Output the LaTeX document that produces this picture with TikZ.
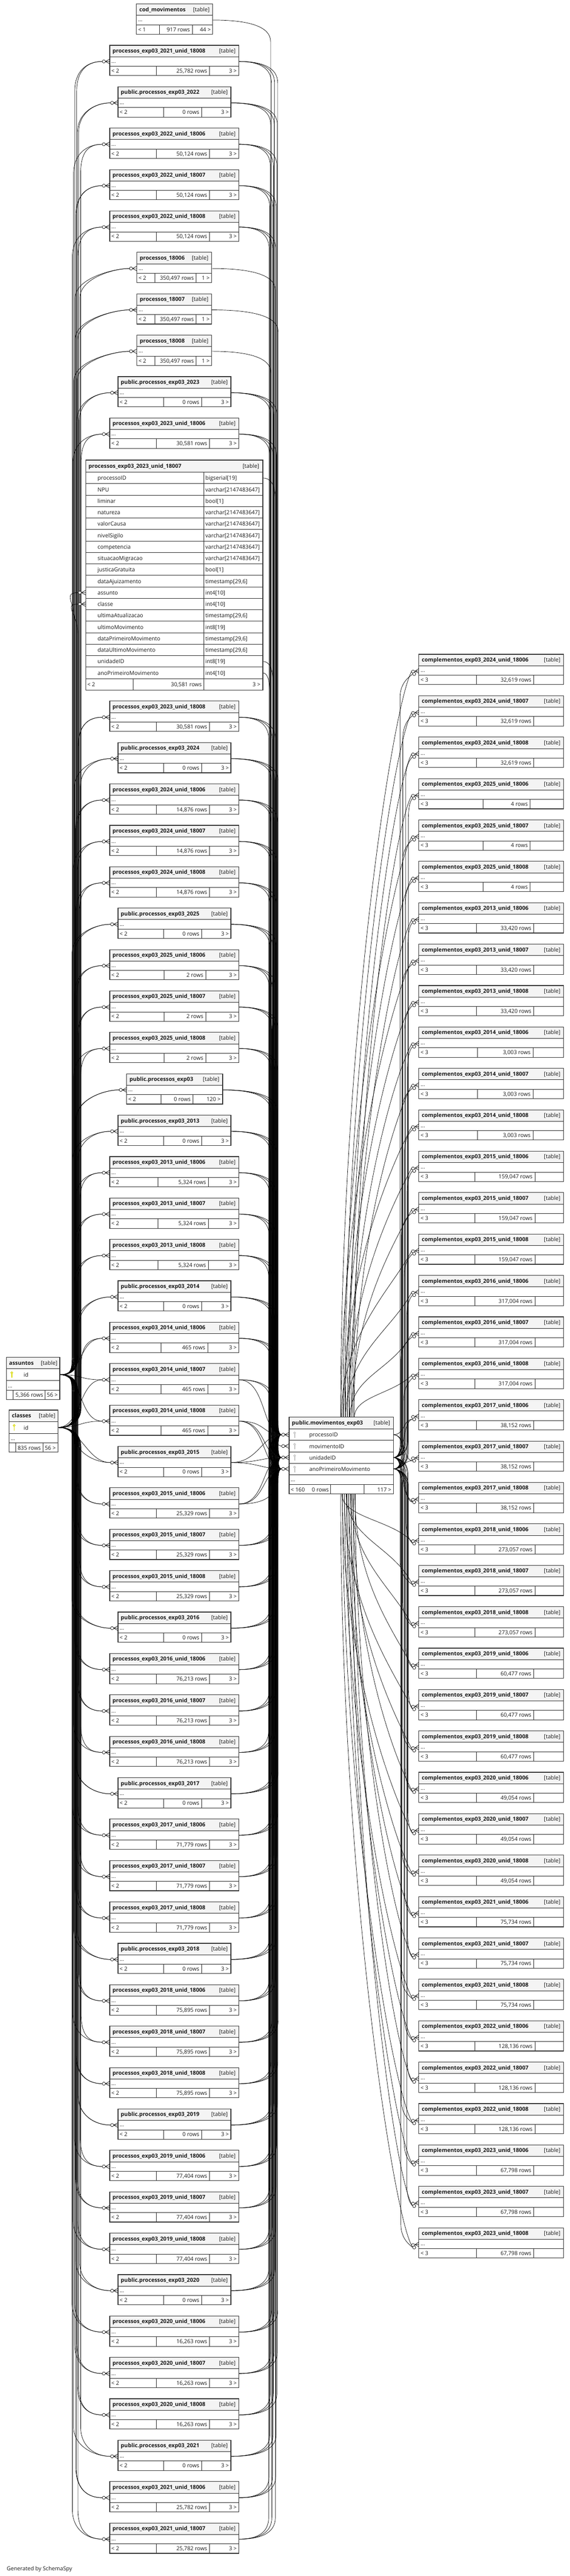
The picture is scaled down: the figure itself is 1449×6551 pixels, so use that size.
\documentclass[tikz,border=0pt]{standalone}
\usepackage{fontspec}
\setmainfont{Open Sans}
\definecolor{hdrgray}{HTML}{F4F4F4}
\definecolor{keyyel}{HTML}{DADA00}
\definecolor{keygray}{HTML}{C4C4C4}
\tikzset{
 tabbg/.style={fill=white, draw=none, inner sep=0pt, outer sep=0pt},
 tabhdr/.style={fill=hdrgray},
 tabcell/.style={draw=black!85, line width=1.1pt},
 tabframe/.style={draw=black!80, line width=1.5pt},
 tabtxt/.style={font=\fontsize{14}{16}\selectfont, inner sep=0pt, text=black!90},
 tabttl/.style={font=\fontsize{14}{16}\selectfont\bfseries, inner sep=0pt, text=black!90},
 conn/.style={draw=black, line width=0.9pt},
}
\newif\ifqdraw
\def\qsplit#1/#2\relax{\def\qdA{#1}\def\qdB{#2}}
% small table: id, x1, x2, ytop, title, parents, rows, children, div1/div2
\newcommand\stab[9]{%
 \qsplit#9\relax
 \pgfmathsetmacro\qyA{#4}%
 \ifqdraw
 \pgfmathsetmacro\qyB{#4+29}%
 \pgfmathsetmacro\qyC{#4+53}%
 \pgfmathsetmacro\qyD{#4+77}%
 \pgfmathsetmacro\qtw{#3-#2}%
 \node[tabbg, minimum width=\qtw pt, minimum height=77pt, anchor=north west] (#1) at (#2,\qyA) {};
 \fill[tabhdr] (#2,\qyA) rectangle (#3,\qyB);
 \draw[tabcell] (#2,\qyB) -- (#3,\qyB) (#2,\qyC) -- (#3,\qyC) (\qdA,\qyC) -- (\qdA,\qyD) (\qdB,\qyC) -- (\qdB,\qyD);
 \draw[tabframe] (#1.north west) rectangle (#1.south east);
 \node[tabttl, anchor=base west] (#1-t) at (#2+7,\qyA+19) {#5};
 \node[tabtxt, anchor=base east] (#1-k) at (#3-8,\qyA+19) {[table]};
 \node[tabtxt, anchor=base west] (#1-d) at (#2+4,\qyA+45) {...};
 \node[tabtxt, anchor=base west] (#1-p) at (#2+4,\qyA+70) {#6};
 \node[tabtxt, anchor=base east] (#1-r) at (\qdB-6,\qyA+70) {#7};
 \node[tabtxt, anchor=base east] (#1-c) at (#3-5,\qyA+70) {#8};
 \fi
 \coordinate (#1-w) at (#2,\qyA+41);
 \coordinate (#1-e) at (#3,\qyA+41);
}
\newcommand\keyicon[4]{%
 \node[circle, draw=#4, line width=1.5pt, inner sep=0pt, minimum size=5pt] (#1) at (#2,#3+3) {};
 \draw[#4, line width=2.2pt] (#2,#3+5.5) -- (#2,#3+16);}
% markers
\newcommand\lmark[1]{%
 \draw[conn, fill=white] ([xshift=-15pt]#1) circle[radius=4pt];
 \draw[conn] ([xshift=-11pt]#1) -- ([yshift=6pt]#1) ([xshift=-11pt]#1) -- (#1) ([xshift=-11pt]#1) -- ([yshift=-6pt]#1);}
\newcommand\cmark[1]{%
 \draw[conn, fill=white] ([xshift=-15pt,yshift=-3pt]#1) circle[radius=4pt];
 \draw[conn, fill=white] ([xshift=-12pt,yshift=-9pt]#1) circle[radius=4pt];
 \draw[conn] ([xshift=-10pt,yshift=-2pt]#1) -- ([yshift=5pt]#1) ([xshift=-10pt,yshift=-2pt]#1) -- ([yshift=-1pt]#1) ([xshift=-10pt,yshift=-2pt]#1) -- ([yshift=-7pt]#1);}
% left edge: from assuntos/classes to table west
\newcommand\Ledge[3]{%
 \path (#1); \pgfgetlastxy{\qax}{\qay}%
 \path (#2); \pgfgetlastxy{\qbx}{\qby}%
 \pgfmathsetmacro\qaX{\qax}\pgfmathsetmacro\qaY{\qay}%
 \pgfmathsetmacro\qbX{\qbx-19}\pgfmathsetmacro\qbY{\qby}%
 \pgfmathsetmacro\qsg{\qbY<\qaY ? -1 : 1}%
 \pgfmathsetmacro\qdy{abs(\qbY-\qaY)}%
 \ifdim\qdy pt<140pt
   \draw[conn] (#1) .. controls (\qaX pt+60pt,\qaY pt) and (\qbX pt-60pt,\qbY pt) .. ([xshift=-19pt]#2);%
 \else
   \pgfmathsetmacro\qpa{\qaY+(\qsg)*12}\pgfmathsetmacro\qpb{\qaY+(\qsg)*50}%
   \pgfmathsetmacro\qpc{\qbY-(\qsg)*75}\pgfmathsetmacro\qpd{\qbY-(\qsg)*25}%
   \draw[conn] (#1) .. controls (\qaX pt+30pt,\qaY pt) and (#3pt,\qpa pt) .. (#3pt,\qpb pt) -- (#3pt,\qpc pt) .. controls (#3pt,\qpd pt) and (\qbX pt-40pt,\qbY pt) .. ([xshift=-19pt]#2);%
 \fi}
% right edge: from table east to movimentos west port
\newcommand\Redge[3]{%
 \path (#1); \pgfgetlastxy{\qax}{\qay}%
 \path (#2); \pgfgetlastxy{\qbx}{\qby}%
 \pgfmathsetmacro\qaX{\qax}\pgfmathsetmacro\qaY{\qay}%
 \pgfmathsetmacro\qbX{\qbx-19}\pgfmathsetmacro\qbY{\qby}%
 \pgfmathsetmacro\qsg{\qbY<\qaY ? -1 : 1}%
 \pgfmathsetmacro\qdy{abs(\qbY-\qaY)}%
 \ifdim\qdy pt<150pt
   \draw[conn] (#1) .. controls (\qaX pt+70pt,\qaY pt) and (\qbX pt-50pt,\qbY pt) .. ([xshift=-19pt]#2);%
 \else
   \pgfmathsetmacro\qca{\qaX+0.6*(#3-\qaX)}%
   \pgfmathsetmacro\qpa{\qaY+(\qsg)*15}\pgfmathsetmacro\qpb{\qaY+(\qsg)*55}%
   \pgfmathsetmacro\qpc{\qbY-(\qsg)*45}\pgfmathsetmacro\qpd{\qbY-(\qsg)*15}%
   \draw[conn] (#1) .. controls (\qca pt,\qaY pt) and (#3pt,\qpa pt) .. (#3pt,\qpb pt) -- (#3pt,\qpc pt) .. controls (#3pt,\qpd pt) and (\qbX pt-8pt,\qbY pt) .. ([xshift=-19pt]#2);%
 \fi}
% complementos edge via right bundle (ends at the lower circle)
\newcommand\Cedge[3]{%
 \path (#1); \pgfgetlastxy{\qax}{\qay}%
 \path (#2); \pgfgetlastxy{\qbx}{\qby}%
 \pgfmathsetmacro\qaX{\qax}\pgfmathsetmacro\qaY{\qay}%
 \pgfmathsetmacro\qbX{\qbx-16}\pgfmathsetmacro\qbY{\qby-9}%
 \pgfmathsetmacro\qsg{\qbY<\qaY ? -1 : 1}%
 \pgfmathsetmacro\qdy{abs(\qbY-\qaY)}%
 \ifdim\qdy pt<130pt
   \draw[conn] (#1) .. controls (\qaX pt+30pt,\qaY pt) and (\qbX pt-25pt,\qbY pt) .. ([xshift=-16pt,yshift=-9pt]#2);%
 \else
   \pgfmathsetmacro\qpa{\qaY+(\qsg)*10}\pgfmathsetmacro\qpb{\qaY+(\qsg)*40}%
   \pgfmathsetmacro\qpc{\qbY-(\qsg)*60}\pgfmathsetmacro\qpd{\qbY-(\qsg)*20}%
   \pgfmathsetmacro\qpe{\qbY-(\qsg)*6}%
   \draw[conn] (#1) .. controls (\qaX pt+12pt,\qaY pt) and (#3pt,\qpa pt) .. (#3pt,\qpb pt) -- (#3pt,\qpc pt) .. controls (#3pt,\qpd pt) and (\qbX pt-6pt,\qpe pt) .. ([xshift=-16pt,yshift=-9pt]#2);%
 \fi}
% complementos edge fanning from top/bottom of movimentos (ends at the upper circle)
\newcommand\Fedge[3]{%
 \path ([xshift=#3pt]#1); \pgfgetlastxy{\qax}{\qay}%
 \path (#2); \pgfgetlastxy{\qbx}{\qby}%
 \pgfmathsetmacro\qaX{\qax}\pgfmathsetmacro\qaY{\qay}%
 \pgfmathsetmacro\qbX{\qbx-19}\pgfmathsetmacro\qbY{\qby-3}%
 \pgfmathsetmacro\qsg{\qbY<\qaY ? -1 : 1}%
 \pgfmathsetmacro\qdy{abs(\qbY-\qaY)}%
 \pgfmathsetmacro\qca{\qaY+(\qsg)*0.5*\qdy}%
 \pgfmathsetmacro\qcb{\qbY-(\qsg)*min(95,0.45*\qdy)}%
 \draw[conn] ([xshift=#3pt]#1) .. controls (\qaX pt,\qca pt) and (\qbX pt-50pt,\qcb pt) .. ([xshift=-19pt,yshift=-3pt]#2);}
% left column
\newcommand\lefty[1]{\pgfmathsetmacro\qytop{#1<12 ? 10+105.3*#1 : 1783+105.3*(#1-12)}}
\newcommand\Lconn[2]{%
 \ifqdraw
 \lmark{L#1-w}%
 \else
 \pgfmathsetmacro\qxbA{183+mod(#1*7,17)}%
 \pgfmathsetmacro\qxbB{190+mod(#1*5,17)}%
 \Ledge{asn-e}{L#1-w}{\qxbA}%
 \Ledge{cls-e}{L#1-w}{\qxbB}%
 \pgfmathsetmacro\qxr{683+mod(#1*7,25)}%
 \Redge{L#1-e}{mov-p1}{\qxr}%
 \ifnum#2=3\relax
   \pgfmathsetmacro\qxr{683+mod(#1*7+8,25)}\Redge{L#1-e}{mov-p3}{\qxr}%
   \pgfmathsetmacro\qxr{683+mod(#1*7+16,25)}\Redge{L#1-e}{mov-p4}{\qxr}%
 \fi
 \fi}
\newcommand\Lunid[5]{\lefty{#1}\stab{L#1}{279}{607}{\qytop}{processos\_exp03\_#2\_unid\_#3}{< 2}{#4 rows}{3 >}{#5}\Lconn{#1}{3}}
\newcommand\Lpub[2]{\lefty{#1}\stab{L#1}{300}{587}{\qytop}{public.processos\_exp03\_#2}{< 2}{0 rows}{3 >}{416/513}\Lconn{#1}{3}}
\newcommand\Lproc[2]{\lefty{#1}\stab{L#1}{348}{538}{\qytop}{processos\_#2}{< 2}{350,497 rows}{1 >}{394/499}\Lconn{#1}{1}}
\newcommand\Lyr[6]{\Lunid{#1}{#4}{18006}{#5}{#6}\Lunid{#2}{#4}{18007}{#5}{#6}\Lunid{#3}{#4}{18008}{#5}{#6}}
% right column
\newcommand\Cconn[1]{%
 \ifqdraw
 \cmark{C#1-w}%
 \else
 \pgfmathsetmacro\qxc{1017+mod(#1*7,22)}%
 \ifodd#1\relax \Cedge{mov-e4}{C#1-w}{\qxc}\else \Cedge{mov-e3}{C#1-w}{\qxc}\fi
 \ifnum#1<18\relax \pgfmathsetmacro\qxf{131+mod(#1*11,38)}\Fedge{mov-nw}{C#1-w}{\qxf}%
 \else\ifnum#1>20\relax \pgfmathsetmacro\qxf{131+mod(#1*11,38)}\Fedge{mov-sw}{C#1-w}{\qxf}%
 \else \Cedge{mov-e1}{C#1-w}{1025}\fi\fi
 \fi}
\newcommand\Ctab[5]{\pgfmathsetmacro\qytop{1664+105.3*#1}\stab{C#1}{1065}{1433}{\qytop}{complementos\_exp03\_#2\_unid\_#3}{< 3}{#4 rows}{}{#5}\Cconn{#1}}
\newcommand\Cyr[6]{\Ctab{#1}{#4}{18006}{#5}{#6}\Ctab{#2}{#4}{18007}{#5}{#6}\Ctab{#3}{#4}{18008}{#5}{#6}}
% big table
\newcommand\bigtab{%
\coordinate (L11-as) at (218,1507.1);
\coordinate (L11-cl) at (218,1536.3);
\coordinate (L11-e1) at (668,1215.6);
\coordinate (L11-e17) at (668,1682.0);
\coordinate (L11-e18) at (668,1711.2);
\ifqdraw
\node[tabbg, minimum width=450pt, minimum height=585pt, anchor=north west] (L11) at (218,1170) {};
\fill[tabhdr] (218,1170) rectangle (668,1201);
\foreach \i/\nm/\ty in {1/processoID/bigserial[19], 2/NPU/varchar[2147483647], 3/liminar/bool[1], 4/natureza/varchar[2147483647], 5/valorCausa/varchar[2147483647], 6/nivelSigilo/varchar[2147483647], 7/competencia/varchar[2147483647], 8/situacaoMigracao/varchar[2147483647], 9/justicaGratuita/bool[1], 10/dataAjuizamento/{timestamp[29,6]}, 11/assunto/int4[10], 12/classe/int4[10], 13/ultimaAtualizacao/{timestamp[29,6]}, 14/ultimoMovimento/int8[19], 15/dataPrimeiroMovimento/{timestamp[29,6]}, 16/dataUltimoMovimento/{timestamp[29,6]}, 17/unidadeID/int8[19], 18/anoPrimeiroMovimento/int4[10]}{
  \pgfmathsetmacro\qrt{1201+(\i-1)*29.15}
  \draw[tabcell] (218,\qrt) -- (668,\qrt);
  \node[tabtxt, anchor=base west] (L11-n\i) at (248,\qrt+20) {\nm};
  \node[tabtxt, anchor=base west] (L11-t\i) at (522,\qrt+20) {\ty};
}
\draw[tabcell] (218,1725.7) -- (668,1725.7) (518,1201) -- (518,1755) (339,1725.7) -- (339,1755);
\draw[tabframe, line width=2.2pt] (L11.north west) rectangle (L11.south east);
\node[tabttl, anchor=base west] (L11-t) at (225,1190) {processos\_exp03\_2023\_unid\_18007};
\node[tabtxt, anchor=base east] (L11-k) at (659,1190) {[table]};
\node[tabtxt, anchor=base west] (L11-p) at (222,1746) {< 2};
\node[tabtxt, anchor=base east] (L11-r) at (513,1746) {30,581 rows};
\node[tabtxt, anchor=base east] (L11-c) at (662,1746) {3 >};
\lmark{L11-as}
\lmark{L11-cl}
\else
\Ledge{asn-e}{L11-as}{190}
\Ledge{cls-e}{L11-cl}{198}
\Redge{L11-e1}{mov-p1}{700}
\Redge{L11-e17}{mov-p3}{694}
\Redge{L11-e18}{mov-p4}{686}
\fi}
\newcommand\allcols{%
\stab{L0}{347}{541}{10}{cod\_movimentos}{< 1}{917 rows}{44 >}{405/489}
\ifqdraw\else\Redge{L0-e}{mov-p2}{688}\fi
\Lunid{1}{2021}{18008}{25,782}{398/533}
\Lpub{2}{2022}
\Lyr{3}{4}{5}{2022}{50,124}{398/533}
\Lproc{6}{18006}
\Lproc{7}{18007}
\Lproc{8}{18008}
\Lpub{9}{2023}
\Lunid{10}{2023}{18006}{30,581}{398/533}
\bigtab
\Lunid{12}{2023}{18008}{30,581}{398/533}
\Lpub{13}{2024}
\Lyr{14}{15}{16}{2024}{14,876}{398/533}
\Lpub{17}{2025}
\Lyr{18}{19}{20}{2025}{2}{417/523}
\lefty{21}\stab{L21}{322}{566}{\qytop}{public.processos\_exp03}{< 2}{0 rows}{120 >}{409/491}\Lconn{21}{3}
\Lpub{22}{2013}
\Lyr{23}{24}{25}{2013}{5,324}{402/530}
\Lpub{26}{2014}
\Lyr{27}{28}{29}{2014}{465}{409/528}
\Lpub{30}{2015}
\Lyr{31}{32}{33}{2015}{25,329}{398/533}
\Lpub{34}{2016}
\Lyr{35}{36}{37}{2016}{76,213}{398/533}
\Lpub{38}{2017}
\Lyr{39}{40}{41}{2017}{71,779}{398/533}
\Lpub{42}{2018}
\Lyr{43}{44}{45}{2018}{75,895}{398/533}
\Lpub{46}{2019}
\Lyr{47}{48}{49}{2019}{77,404}{398/533}
\Lpub{50}{2020}
\Lyr{51}{52}{53}{2020}{16,263}{398/533}
\Lpub{54}{2021}
\Lunid{55}{2021}{18006}{25,782}{398/533}
\Lunid{56}{2021}{18007}{25,782}{398/533}
\Cyr{0}{1}{2}{2024}{32,619}{1211/1357}
\Cyr{3}{4}{5}{2025}{4}{1228/1348}
\Cyr{6}{7}{8}{2013}{33,420}{1211/1357}
\Cyr{9}{10}{11}{2014}{3,003}{1214/1355}
\Cyr{12}{13}{14}{2015}{159,047}{1207/1360}
\Cyr{15}{16}{17}{2016}{317,004}{1207/1360}
\Cyr{18}{19}{20}{2017}{38,152}{1211/1357}
\Cyr{21}{22}{23}{2018}{273,057}{1207/1360}
\Cyr{24}{25}{26}{2019}{60,477}{1211/1357}
\Cyr{27}{28}{29}{2020}{49,054}{1211/1357}
\Cyr{30}{31}{32}{2021}{75,734}{1211/1357}
\Cyr{33}{34}{35}{2022}{128,136}{1207/1360}
\Cyr{36}{37}{38}{2023}{67,798}{1211/1357}
}
\begin{document}
\begin{tikzpicture}[x=1pt,y=-1pt]
\useasboundingbox (0,0) rectangle (1449,6551);
\fill[white] (0,0) rectangle (1449,6551);
% fixed ports
\coordinate (asn-e) at (152,3496);
\coordinate (cls-e) at (147,3630);
\coordinate (mov-nw) at (735,3604);
\coordinate (mov-sw) at (735,3799);
\coordinate (mov-p1) at (735,3648.5);
\coordinate (mov-p2) at (735,3677.5);
\coordinate (mov-p3) at (735,3706.5);
\coordinate (mov-p4) at (735,3735.5);
\coordinate (mov-e1) at (1000,3648.5);
\coordinate (mov-e2) at (1000,3677.5);
\coordinate (mov-e3) at (1000,3706.5);
\coordinate (mov-e4) at (1000,3735.5);
% pass 1: connectors
\qdrawfalse
\allcols
% pass 2: tables and markers
\qdrawtrue
% ---------- assuntos ----------
\node[tabbg, minimum width=136pt, minimum height=107pt, anchor=north west] (asn) at (16,3452) {};
\fill[tabhdr] (16,3452) rectangle (152,3481);
\draw[tabcell] (16,3481) -- (152,3481) (16,3511) -- (152,3511) (16,3535) -- (152,3535) (33,3535) -- (33,3559) (115,3535) -- (115,3559);
\draw[tabframe] (asn.north west) rectangle (asn.south east);
\node[tabttl, anchor=base west] (asn-t) at (23,3471) {assuntos};
\node[tabtxt, anchor=base east] (asn-k) at (146,3471) {[table]};
\keyicon{asn-key}{30}{3488}{keyyel}
\node[tabtxt, anchor=base west] (asn-id) at (60,3502) {id};
\node[tabtxt, anchor=base west] (asn-d) at (20,3529) {...};
\node[tabtxt, anchor=base east] (asn-r) at (110,3553) {5,366 rows};
\node[tabtxt, anchor=base east] (asn-c) at (147,3553) {56 >};
% ---------- classes ----------
\node[tabbg, minimum width=124pt, minimum height=107pt, anchor=north west] (cls) at (23,3586) {};
\fill[tabhdr] (23,3586) rectangle (147,3615);
\draw[tabcell] (23,3615) -- (147,3615) (23,3645) -- (147,3645) (23,3669) -- (147,3669) (40,3669) -- (40,3693) (109,3669) -- (109,3693);
\draw[tabframe] (cls.north west) rectangle (cls.south east);
\node[tabttl, anchor=base west] (cls-t) at (30,3605) {classes};
\node[tabtxt, anchor=base east] (cls-k) at (141,3605) {[table]};
\keyicon{cls-key}{36}{3622}{keyyel}
\node[tabtxt, anchor=base west] (cls-id) at (60,3636) {id};
\node[tabtxt, anchor=base west] (cls-d) at (27,3663) {...};
\node[tabtxt, anchor=base east] (cls-r) at (104,3687) {835 rows};
\node[tabtxt, anchor=base east] (cls-c) at (142,3687) {56 >};
% ---------- movimentos ----------
\node[tabbg, minimum width=265pt, minimum height=195pt, anchor=north west] (mov) at (735,3604) {};
\fill[tabhdr] (735,3604) rectangle (1000,3634);
\draw[tabcell] (735,3634) -- (1000,3634) (735,3663) -- (1000,3663) (735,3692) -- (1000,3692) (735,3721) -- (1000,3721) (735,3750) -- (1000,3750) (735,3775) -- (1000,3775) (841,3775) -- (841,3799) (925,3775) -- (925,3799);
\draw[tabframe] (mov.north west) rectangle (mov.south east);
\node[tabttl, anchor=base west] (mov-t) at (742,3623) {public.movimentos\_exp03};
\node[tabtxt, anchor=base east] (mov-k) at (992,3623) {[table]};
\keyicon{mov-k1}{749}{3641}{keygray}
\keyicon{mov-k2}{749}{3670}{keygray}
\keyicon{mov-k3}{749}{3699}{keygray}
\keyicon{mov-k4}{749}{3728}{keygray}
\node[tabtxt, anchor=base west] (mov-n1) at (786,3654) {processoID};
\node[tabtxt, anchor=base west] (mov-n2) at (786,3683) {movimentoID};
\node[tabtxt, anchor=base west] (mov-n3) at (786,3712) {unidadeID};
\node[tabtxt, anchor=base west] (mov-n4) at (786,3741) {anoPrimeiroMovimento};
\node[tabtxt, anchor=base west] (mov-d) at (739,3768) {...};
\node[tabtxt, anchor=base west] (mov-p) at (739,3793) {< 160};
\node[tabtxt, anchor=base east] (mov-r) at (836,3793) {0 rows};
\node[tabtxt, anchor=base east] (mov-c) at (995,3793) {117 >};
\lmark{mov-p1}
\lmark{mov-p2}
\lmark{mov-p3}
\lmark{mov-p4}
\allcols
% footer
\node[tabtxt, anchor=base west] (gen) at (17,6537) {Generated by SchemaSpy};
\end{tikzpicture}
\end{document}
